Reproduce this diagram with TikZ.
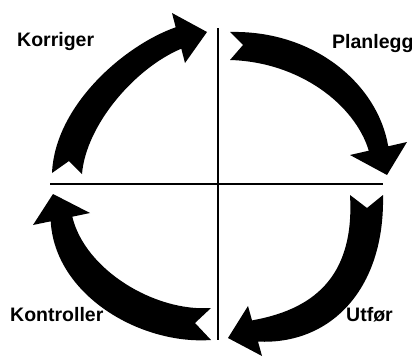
\documentclass[tikz,border=0pt]{standalone}
\usepackage{fontspec}
\setmainfont{Liberation Sans}
\usepackage{tikz}

\begin{document}
\begin{tikzpicture}[
    x=1pt, y=-1pt,
    % the four phase labels
    lbl/.style={font=\bfseries\fontsize{19.5}{23}\selectfont, inner sep=0pt,
                anchor=base west, text=black},
    % swallow-tailed curved arrows
    cyclearrow/.style={fill=black, draw=none},
    % the cross in the middle
    crossline/.style={draw=black, line width=2.4pt}
]
\useasboundingbox (0,0) rectangle (412,356);

%-------- CROSS --------
\coordinate (top)    at (218,28);
\coordinate (bottom) at (218,340);
\coordinate (left)   at (50,184);
\coordinate (right)  at (383,184);
\draw[crossline] (top)  -- (bottom);
\draw[crossline] (left) -- (right);

%-------- ARROWS --------
% Korriger -> Planlegg (top left)
\fill[cyclearrow] (52,173) .. controls (55,105) and (125,45) .. (175.7,27.3)
    -- (172,13) -- (207,32) -- (185,63) -- (181.3,48.7)
    .. controls (135,68) and (86,125) .. (82,174) -- (69,161) -- cycle;
% Planlegg -> Utfor (top right)
\fill[cyclearrow] (230,32) .. controls (315,30) and (378,85) .. (388.2,146.3)
    -- (407,142) -- (387,175) -- (350,155) -- (368.8,150.7)
    .. controls (355,105) and (300,62) .. (230,60) -- (243,45) -- cycle;
% Utfor -> Kontroller (bottom right)
\fill[cyclearrow] (383,195) .. controls (385,290) and (330,345) .. (258,341.6)
    -- (262,356) -- (228,338) -- (248,306) -- (252,320.4)
    .. controls (310,310) and (355,280) .. (350,195) -- (367,208) -- cycle;
% Kontroller -> Korriger (bottom left)
\fill[cyclearrow] (211,340) .. controls (140,345) and (55,295) .. (50.7,221.3)
    -- (33,225) -- (53,194) -- (90,213) -- (72.3,216.7)
    .. controls (85,270) and (155,312) .. (211,308) -- (195,323) -- cycle;

%-------- LABELS --------
\node[lbl] (korriger)   at (17,46)  {Korriger};
\node[lbl] (planlegg)   at (332,48) {Planlegg};
\node[lbl] (kontroller) at (10,321) {Kontroller};
\node[lbl] (utfor)      at (346,321) {Utfør};

\end{tikzpicture}
\end{document}
